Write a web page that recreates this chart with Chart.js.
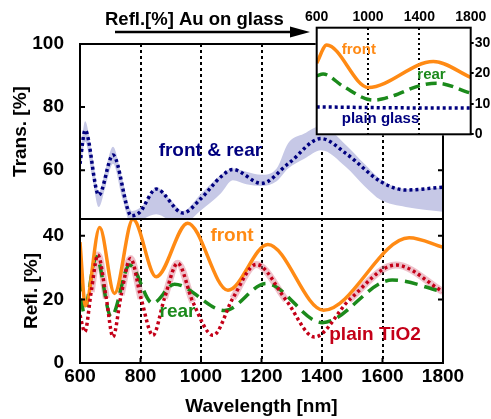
<!DOCTYPE html>
<html><head><meta charset="utf-8">
<script src="https://cdn.jsdelivr.net/npm/chart.js@4.4.1/dist/chart.umd.min.js"></script>
<style>
html,body{margin:0;padding:0;background:#fff;}
#wrap{position:relative;width:491px;height:419px;overflow:hidden;}
#main{position:absolute;left:0;top:0;}
#inset{position:absolute;left:290px;top:0;}
</style></head><body>
<div id="wrap">
<canvas id="main" width="491" height="419"></canvas>
<canvas id="inset" width="201" height="150"></canvas>
</div>
<script>
// ---------- tick labels ----------
const xTicks = [600, 800, 1000, 1200, 1400, 1600, 1800];
const transTicks = [60, 80, 100];
const reflTicks = [0, 20, 40];
const insetXTicks = [600, 1000, 1400, 1800];
const insetYTicks = [0, 10, 20, 30];

// ---------- top panel: transmission ----------
const transWl = [600, 617, 662, 709, 770, 797, 852, 940, 1000, 1066, 1105, 1200, 1288, 1397, 1479, 1595, 1677, 1800];
const transFR = [62, 72.7, 52.1, 64.8, 45.5, 46.6, 54, 46.4, 51, 57.9, 60.2, 55.8, 62, 70, 65.3, 56.3, 53.7, 54.6];
const bandWl = [600, 617, 640, 662, 685, 709, 740, 772, 810, 852, 900, 940, 1000, 1066, 1105, 1150, 1200, 1250, 1288, 1340, 1397, 1479, 1540, 1595, 1677, 1800];
const bandHi = [64, 75.5, 65, 53, 60.5, 67.4, 57, 47, 49, 54.5, 50.5, 47, 52.5, 58.5, 60.5, 59.5, 58.5, 60.5, 68.5, 71.5, 74, 68, 62, 57, 54, 54.5];
const bandLo = [59, 69, 58, 48.3, 55, 62, 51, 42, 44.5, 46, 44, 43, 47.3, 52.7, 56.8, 55.5, 55, 56.5, 60.5, 63.5, 66.3, 61, 55, 50.5, 48.3, 46.8];

// ---------- bottom panel: reflection ----------
const frontWl = [600, 618, 665, 714, 775, 852, 956, 1089, 1221, 1405, 1688, 1800];
const frontR  = [38, 18, 42.6, 21.9, 45.2, 27.1, 44, 22.9, 37.3, 16.6, 39.4, 36.4];
const rearWl = [600, 612, 654, 703, 764, 840, 912, 1078, 1215, 1401, 1632, 1800];
const rearR  = [26.6, 16, 33.4, 14.5, 30.8, 18.8, 24.8, 16.5, 25, 12.7, 26.1, 22.4];
const tio2Wl = [600, 616, 637, 659, 687, 709, 736, 767, 802, 841, 879, 923, 973, 1040, 1105, 1183, 1281, 1375, 1490, 1644, 1800];
const tio2R  = [15, 9.8, 22.4, 34, 20.3, 8.2, 21.4, 32.9, 20.3, 8.7, 20.3, 31.4, 19.2, 8.7, 20.3, 31, 19.8, 8.2, 19.8, 30.8, 22.4];

// ---------- inset: Au on glass ----------
const auFrontWl = [600, 678, 1002, 1509, 1800];
const auFrontR  = [23.4, 29.3, 15.4, 23.9, 18.7];
const auRearWl = [600, 650, 808, 1040, 1171, 1405, 1535, 1800];
const auRearR  = [19.2, 19.8, 15.7, 11.2, 12.3, 16, 16.8, 13.5];
const glassWl = [600, 1200, 1800];
const glassR  = [9, 8.7, 8.6];

const pts = (xs, ys) => xs.map((x, i) => ({x: x, y: ys[i]}));

const FONT = "'Liberation Sans', Arial, Helvetica, sans-serif";
Chart.defaults.font.family = FONT;
Chart.defaults.font.weight = 'bold';
Chart.defaults.color = '#000';

const NAVY = '#00007f', ORANGE = '#ff8a14', GREEN = '#1b8a1b', RED = '#c40018';
const BAND = 'rgb(198,200,230)', HALO = 'rgba(214,110,130,0.42)';

const setTicks = arr => s => { s.ticks = arr.map(v => ({value: v})); };
const plain = v => String(v);

const mainLabels = [
  {text: 'front & rear', x: 860, y: 64.4, axis: 'yT', color: NAVY},
  {text: 'front', x: 1031, y: 38.4, axis: 'yR', color: ORANGE},
  {text: 'rear', x: 863, y: 14.5, axis: 'yR', color: GREEN},
  {text: 'plain TiO2', x: 1424, y: 7.2, axis: 'yR', color: RED}
];
const insetLabels = [
  {text: 'front', x: 795, y: 26.3, color: ORANGE},
  {text: 'rear', x: 1384, y: 18.1, color: GREEN},
  {text: 'plain glass', x: 795, y: 3.8, color: NAVY}
];

const mainDecor = {
  id: 'mainDecor',
  afterDatasetsDraw(chart) {
    const {ctx, chartArea: a, scales} = chart;
    const xs = scales.x, yT = scales.yT, yR = scales.yR;
    ctx.save();
    ctx.setLineDash([]);
    ctx.strokeStyle = '#000';
    ctx.lineWidth = 2;
    ctx.strokeRect(a.left, a.top, a.right - a.left, a.bottom - a.top);
    ctx.beginPath();
    ctx.moveTo(a.left, yR.top); ctx.lineTo(a.right, yR.top);
    ctx.stroke();
    const tl = 5;
    [yT, yR].forEach(s => s.ticks.forEach(t => {
      const py = s.getPixelForValue(t.value);
      ctx.beginPath();
      ctx.moveTo(a.left, py); ctx.lineTo(a.left + tl, py);
      ctx.moveTo(a.right, py); ctx.lineTo(a.right - tl, py);
      ctx.stroke();
    }));
    xs.ticks.forEach(t => {
      const px = xs.getPixelForValue(t.value);
      ctx.beginPath(); ctx.moveTo(px, a.bottom); ctx.lineTo(px, a.bottom - tl); ctx.stroke();
    });
    // header with arrow
    ctx.fillStyle = '#000';
    ctx.font = 'bold 18.5px ' + FONT;
    ctx.textAlign = 'left'; ctx.textBaseline = 'alphabetic';
    ctx.fillText('Refl.[%] Au on glass', 105, 25);
    ctx.lineWidth = 2.5;
    ctx.beginPath(); ctx.moveTo(115, 32); ctx.lineTo(294, 32); ctx.stroke();
    ctx.beginPath(); ctx.moveTo(310, 32); ctx.lineTo(290, 26.5); ctx.lineTo(290, 37.5); ctx.closePath(); ctx.fill();
    // annotations
    ctx.font = 'bold 19px ' + FONT;
    mainLabels.forEach(l => {
      ctx.fillStyle = l.color;
      ctx.fillText(l.text, xs.getPixelForValue(l.x), scales[l.axis].getPixelForValue(l.y));
    });
    ctx.restore();
  }
};

const lineDs = (label, xs, ys, axis, color, width, dash) => ({
  label, data: pts(xs, ys), yAxisID: axis, borderColor: color, borderWidth: width,
  borderDash: dash || [], pointRadius: 0, fill: false, cubicInterpolationMode: 'monotone', borderCapStyle: 'butt'
});

// dataset index 0 is drawn on top
new Chart(document.getElementById('main'), {
  type: 'line',
  data: {datasets: [
    lineDs('plain TiO2', tio2Wl, tio2R, 'yR', RED, 3.5, [3, 3]),
    lineDs('front', frontWl, frontR, 'yR', ORANGE, 3.5),
    lineDs('rear', rearWl, rearR, 'yR', GREEN, 3.5, [13, 7]),
    Object.assign(lineDs('halo', tio2Wl, tio2R, 'yR', 'rgba(0,0,0,0)', 7),
      {segment: {borderColor: c => (c.p0.parsed.y >= 19 && c.p1.parsed.y >= 19) ? HALO : 'rgba(0,0,0,0)'}}),
    lineDs('front & rear', transWl, transFR, 'yT', NAVY, 3.5, [3, 3]),
    {label: 'bandLo', data: pts(bandWl, bandLo), yAxisID: 'yT', borderWidth: 0, borderColor: 'rgba(0,0,0,0)', pointRadius: 0, fill: false, cubicInterpolationMode: 'monotone'},
    {label: 'bandHi', data: pts(bandWl, bandHi), yAxisID: 'yT', borderWidth: 0, borderColor: 'rgba(0,0,0,0)', pointRadius: 0, fill: '-1', backgroundColor: BAND, cubicInterpolationMode: 'monotone'}
  ]},
  options: {
    responsive: false, animation: false,
    layout: {padding: {left: 0, top: 44, right: 48, bottom: 0}},
    plugins: {legend: {display: false}, tooltip: {enabled: false}},
    scales: {
      x: {
        type: 'linear', position: 'bottom', min: 600, max: 1800,
        afterBuildTicks: setTicks(xTicks),
        ticks: {callback: plain, font: {size: 19, weight: 'bold'}, padding: 2, maxRotation: 0, autoSkip: false},
        grid: {color: c => (c.tick && c.tick.value > 600 && c.tick.value < 1800) ? '#000' : 'rgba(0,0,0,0)', lineWidth: 2, drawTicks: false},
        border: {display: false, dash: [3, 3]},
        title: {display: true, text: 'Wavelength [nm]', font: {size: 19, weight: 'bold'}, padding: {top: 0, bottom: 0.6}},
        afterFit: s => { s.height = 56; }
      },
      yR: {
        type: 'linear', position: 'left', stack: 'v', stackWeight: 144, min: 0, max: 45.3,
        afterBuildTicks: setTicks(reflTicks),
        ticks: {callback: plain, font: {size: 19, weight: 'bold'}, padding: 8},
        grid: {display: false}, border: {display: false},
        title: {display: true, text: 'Refl. [%]', font: {size: 19, weight: 'bold'}, padding: {top: 20.6, bottom: 0}},
        afterFit: s => { s.width = 80; }
      },
      yT: {
        type: 'linear', position: 'left', stack: 'v', stackWeight: 175, min: 44.5, max: 100,
        afterBuildTicks: setTicks(transTicks),
        ticks: {callback: plain, font: {size: 19, weight: 'bold'}, padding: 8},
        grid: {display: false}, border: {display: false},
        title: {display: true, text: 'Trans. [%]', font: {size: 19, weight: 'bold'}, padding: {top: 9.1, bottom: 0}},
        afterFit: s => { s.width = 80; }
      }
    }
  },
  plugins: [mainDecor]
});

const insetDecor = {
  id: 'insetDecor',
  beforeDraw(chart) {
    const {ctx, chartArea: a} = chart;
    ctx.save(); ctx.fillStyle = '#fff';
    ctx.fillRect(a.left - 1, a.top - 1, a.right - a.left + 2, a.bottom - a.top + 2);
    ctx.restore();
  },
  afterDatasetsDraw(chart) {
    const {ctx, chartArea: a, scales} = chart;
    ctx.save();
    ctx.setLineDash([]);
    ctx.strokeStyle = '#000'; ctx.lineWidth = 2;
    ctx.strokeRect(a.left, a.top, a.right - a.left, a.bottom - a.top);
    ctx.font = 'bold 15px ' + FONT;
    ctx.textAlign = 'left'; ctx.textBaseline = 'alphabetic';
    insetLabels.forEach(l => {
      ctx.fillStyle = l.color;
      ctx.fillText(l.text, scales.x.getPixelForValue(l.x), scales.y.getPixelForValue(l.y));
    });
    ctx.restore();
  }
};

new Chart(document.getElementById('inset'), {
  type: 'line',
  data: {datasets: [
    lineDs('front', auFrontWl, auFrontR, 'y', ORANGE, 3.5),
    lineDs('rear', auRearWl, auRearR, 'y', GREEN, 3.5, [11, 6]),
    lineDs('plain glass', glassWl, glassR, 'y', NAVY, 3.5, [3, 3])
  ]},
  options: {
    responsive: false, animation: false,
    layout: {padding: {left: 26.7, top: 0, right: 0, bottom: 15.7}},
    plugins: {legend: {display: false}, tooltip: {enabled: false}},
    scales: {
      x: {
        type: 'linear', position: 'top', min: 600, max: 1800,
        afterBuildTicks: setTicks(insetXTicks),
        ticks: {callback: plain, font: {size: 14, weight: 'bold'}, padding: 2, maxRotation: 0, autoSkip: false},
        grid: {color: c => (c.tick && c.tick.value > 600 && c.tick.value < 1800) ? '#000' : 'rgba(0,0,0,0)', lineWidth: 2, drawTicks: false},
        border: {display: false, dash: [2, 3]},
        afterFit: s => { s.height = 27.7; }
      },
      y: {
        type: 'linear', position: 'right', min: 0, max: 35,
        afterBuildTicks: setTicks(insetYTicks),
        ticks: {callback: plain, font: {size: 14, weight: 'bold'}, padding: 1},
        grid: {drawOnChartArea: false, drawTicks: true, tickLength: 3, color: '#000', lineWidth: 2},
        border: {display: false},
        afterFit: s => { s.width = 20.3; }
      }
    }
  },
  plugins: [insetDecor]
});
</script>
</body></html>
